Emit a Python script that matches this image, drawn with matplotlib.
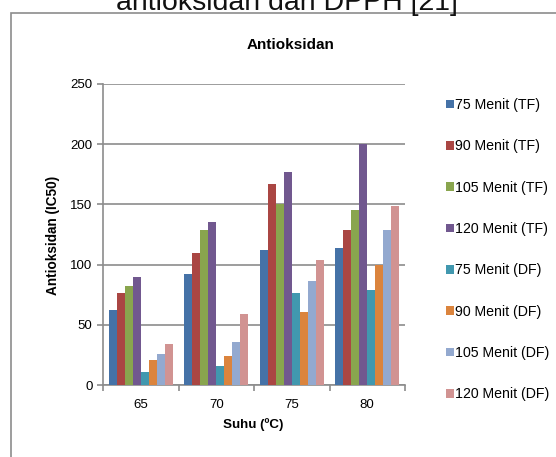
import numpy as np
import matplotlib
matplotlib.use("Agg")
import matplotlib.pyplot as plt
from matplotlib.patches import Rectangle

# data
suhu = ["65", "70", "75", "80"]
series_names = ["75 Menit (TF)", "90 Menit (TF)", "105 Menit (TF)", "120 Menit (TF)",
                "75 Menit (DF)", "90 Menit (DF)", "105 Menit (DF)", "120 Menit (DF)"]
tf_75 = [62, 92, 112, 114]
tf_90 = [76, 110, 167, 129]
tf_105 = [82, 129, 150, 145]
tf_120 = [90, 135, 177, 200]
df_75 = [11, 16, 76, 79]
df_90 = [21, 24, 61, 100]
df_105 = [26, 36, 86, 129]
df_120 = [34, 59, 104, 149]
values = [tf_75, tf_90, tf_105, tf_120, df_75, df_90, df_105, df_120]

colors = ["#4572A7", "#AA4643", "#89A54E", "#71588F",
          "#4198AF", "#DB843D", "#93A9CF", "#D19392"]

W, H = 556, 457
fig = plt.figure(figsize=(W / 100, H / 100), dpi=100)
plt.rcParams['font.family'] = ['Liberation Sans', 'DejaVu Sans']

def fx(px):
    return px / W

def fy(py):
    return 1 - py / H

# outer chart frame (cut at right/bottom)
fig.patches.append(Rectangle((fx(11), fy(470)), fx(600), fy(13) - fy(470),
                             transform=fig.transFigure, fill=False,
                             edgecolor="#8c8c8c", linewidth=1.2))

# caption cut at the top
fig.text(fx(287), fy(10), "antioksidan dan DPPH [21]", ha="center", va="baseline",
         fontsize=20.5, color="#111111")

ax = fig.add_axes([fx(103), fy(385), fx(405) - fx(103), fy(84) - fy(385)])

n = len(values)
bw = 0.106
x = np.arange(len(suhu))
for i, (name, vals) in enumerate(zip(series_names, values)):
    offs = (i - (n - 1) / 2) * bw
    ax.bar(x + offs, vals, width=bw, color=colors[i], label=name, zorder=3)

ax.set_xlim(-0.5, len(suhu) - 0.5)
ax.set_ylim(0, 250)
ax.set_yticks(np.arange(0, 251, 50))
ax.yaxis.grid(True, color="#8c8c8c", linewidth=1.2, zorder=0)
ax.set_xticks(x)
ax.set_xticklabels(suhu)
ax.set_xticks(np.arange(-0.5, len(suhu), 1), minor=True)
ax.tick_params(axis="x", which="major", length=0, labelsize=9.5, pad=10)
ax.tick_params(axis="x", which="minor", length=4, color="#8c8c8c", width=1.2)
ax.tick_params(axis="y", length=4, color="#8c8c8c", width=1.2, labelsize=9.5)
for s in ["top", "right"]:
    ax.spines[s].set_visible(False)
for s in ["left", "bottom"]:
    ax.spines[s].set_color("#8c8c8c")
    ax.spines[s].set_linewidth(1.2)

fig.text(fx(291), fy(45), "Antioksidan", ha="center", va="center",
         fontsize=11, fontweight="bold")
fig.text(fx(53), fy(235), "Antioksidan (IC50)", ha="center", va="center",
         rotation=90, fontsize=9.8, fontweight="bold")
fig.text(fx(253), fy(425), "Suhu (ºC)", ha="center", va="center",
         fontsize=9.6, fontweight="bold")

ax.legend(loc="upper left", bbox_to_anchor=(fx(446), fy(98)),
          bbox_transform=fig.transFigure, frameon=False, fontsize=10.2,
          handlelength=0.55, handleheight=0.55, handletextpad=0.1,
          labelspacing=1.93, borderpad=0, borderaxespad=0)

fig.savefig("out.png", dpi=100)
